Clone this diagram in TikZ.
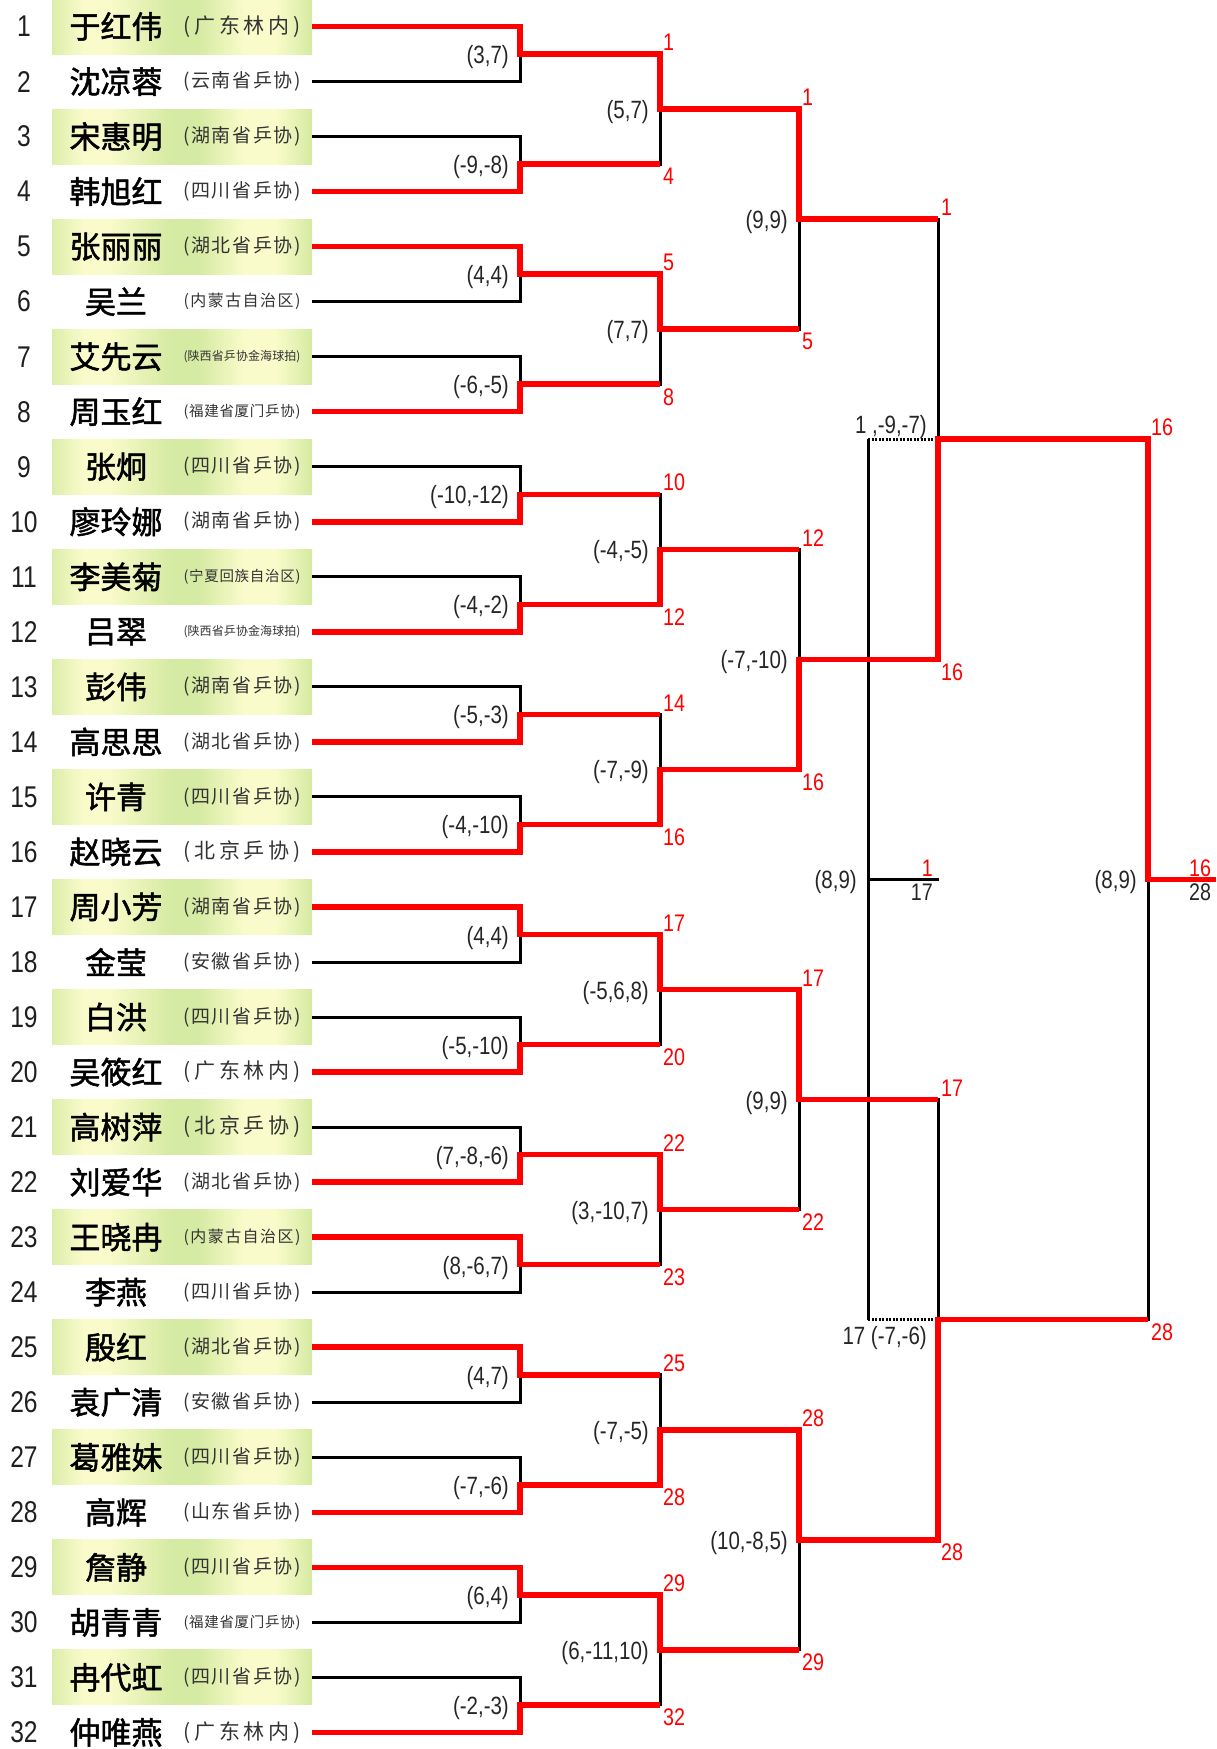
\documentclass[tikz,border=0pt]{standalone}
\usepackage{fontspec}
\setmainfont{Liberation Sans}[FakeStretch=0.82]
\newfontfamily\cjk{Noto Sans CJK SC}
\newfontfamily\cjkname{Noto Sans CJK SC}[FakeBold=1.6]
\usetikzlibrary{calc}
\definecolor{gr}{HTML}{D5EAA2}
\definecolor{ye}{HTML}{F9FBCA}
\definecolor{rd}{HTML}{FF0000}
\definecolor{afc}{HTML}{333333}
\pgfdeclarehorizontalshading{boxshade}{100bp}{color(0bp)=(gr); color(25bp)=(gr!80!ye); color(31bp)=(ye); color(36bp)=(ye); color(48bp)=(gr); color(53bp)=(gr); color(62bp)=(ye); color(68bp)=(ye); color(75bp)=(gr); color(100bp)=(gr)}
\def\spreadit#1{\ifx\relax#1\else#1\hfil\expandafter\spreadit\fi}
\newcommand\aff[2]{\makebox[117pt][s]{\fontsize{#1}{#1}\selectfont\cjk(\hfil\expandafter\spreadit#2\relax)}}
\begin{document}
\begin{tikzpicture}[x=1pt,y=-1pt,
  declare function={rowy(\k)=26.5+55.03*(\k-1);},
  namebox/.style={minimum width=260pt,minimum height=55.03pt,inner sep=0,outer sep=0,draw=none},
  oddbox/.style={namebox,shading=boxshade},
  blk/.style={line width=3pt,black},
  rl/.style={line width=5.5pt,rd,line join=miter},
  dotl/.style={line width=2.7pt,black,dash pattern=on 2pt off 1.5pt},
  numlab/.style={font=\fontsize{30}{30}\selectfont,text=black!88,inner sep=0},
  namelab/.style={font={\fontsize{31}{31}\selectfont\cjkname},inner sep=0},
  afflab/.style={text=afc,inner sep=0},
  sc/.style={font=\fontsize{25}{25}\selectfont,text=black!85,inner sep=0,anchor=base east},
  wl/.style={font=\fontsize{24}{24}\selectfont,text=rd,inner sep=0}]
\useasboundingbox (0,0) rectangle (1216,1749);
% ---- players ----
\foreach \i/\nm/\fs/\af in {
1/于红伟/21/广东林内, 2/沈凉蓉/19/云南省乒协, 3/宋惠明/19/湖南省乒协, 4/韩旭红/19/四川省乒协,
5/张丽丽/19/湖北省乒协, 6/吴兰/16/内蒙古自治区, 7/艾先云/12/陕西省乒协金海球拍, 8/周玉红/14.5/福建省厦门乒协,
9/张炯/19/四川省乒协, 10/廖玲娜/19/湖南省乒协, 11/李美菊/14.5/宁夏回族自治区, 12/吕翠/12/陕西省乒协金海球拍,
13/彭伟/19/湖南省乒协, 14/高思思/19/湖北省乒协, 15/许青/19/四川省乒协, 16/赵晓云/21/北京乒协,
17/周小芳/19/湖南省乒协, 18/金莹/19/安徽省乒协, 19/白洪/19/四川省乒协, 20/吴筱红/21/广东林内,
21/高树萍/21/北京乒协, 22/刘爱华/19/湖北省乒协, 23/王晓冉/16/内蒙古自治区, 24/李燕/19/四川省乒协,
25/殷红/19/湖北省乒协, 26/袁广清/19/安徽省乒协, 27/葛雅妹/19/四川省乒协, 28/高辉/19/山东省乒协,
29/詹静/19/四川省乒协, 30/胡青青/14.5/福建省厦门乒协, 31/冉代虹/19/四川省乒协, 32/仲唯燕/21/广东林内}{
  \ifodd\i
    \node[oddbox] (b-\i) at (182,{rowy(\i)}) {};
  \else
    \node[namebox] (b-\i) at (182,{rowy(\i)}) {};
  \fi
  \node[numlab] (n-\i) at (24,{rowy(\i)}) {\i};
  \node[namelab] (nm-\i) at (116,{rowy(\i)}) {\nm};
  \node[afflab] (af-\i) at (242,{rowy(\i)}) {\aff{\fs}{\af}};
}
% ---- junction coordinates ----
\foreach \k in {1,...,16} \coordinate (r1-\k) at (520,{rowy(2*\k-0.5)});
\foreach \k in {1,...,8} \coordinate (r2-\k) at (660,{rowy(4*\k-1.5)});
\foreach \k in {1,...,4} \coordinate (r3-\k) at (799,{rowy(8*\k-3.5)});
\foreach \k in {1,2} \coordinate (r4-\k) at (938,{rowy(16*\k-7.5)});
\coordinate (r5) at (1148,{rowy(16.5)});
\coordinate (fend) at (1216,{rowy(16.5)});
\coordinate (t1) at (868,{rowy(8.5)});
\coordinate (t2) at (868,{rowy(24.5)});
\coordinate (t) at (868,{rowy(16.5)});
\coordinate (tend) at (939,{rowy(16.5)});
% ---- black bracket ----
\foreach \k in {1,...,16}{\pgfmathtruncatemacro\a{2*\k-1}\pgfmathtruncatemacro\b{2*\k}
  \draw[blk] (b-\a.east) -| (r1-\k); \draw[blk] (b-\b.east) -| (r1-\k);}
\foreach \k in {1,...,8}{\pgfmathtruncatemacro\a{2*\k-1}\pgfmathtruncatemacro\b{2*\k}
  \draw[blk] (r1-\a) -| (r2-\k); \draw[blk] (r1-\b) -| (r2-\k);}
\foreach \k in {1,...,4}{\pgfmathtruncatemacro\a{2*\k-1}\pgfmathtruncatemacro\b{2*\k}
  \draw[blk] (r2-\a) -| (r3-\k); \draw[blk] (r2-\b) -| (r3-\k);}
\foreach \k in {1,2}{\pgfmathtruncatemacro\a{2*\k-1}\pgfmathtruncatemacro\b{2*\k}
  \draw[blk] (r3-\a) -| (r4-\k); \draw[blk] (r3-\b) -| (r4-\k);}
\draw[blk] (r4-1) -| (r5); \draw[blk] (r4-2) -| (r5);
% third place
\draw[blk] (t1) -- (t2);
\draw[blk] (t) -- (tend);
\draw[dotl] (t1) -- (r4-1);
\draw[dotl] (t2) -- (r4-2);
% ---- red winner paths ----
\draw[rl] (b-4.east) -| (r1-2) -- (r1-2 -| r2-1);
\draw[rl] (b-8.east) -| (r1-4) -- (r1-4 -| r2-2);
\draw[rl] (b-10.east) -| (r1-5) -- (r1-5 -| r2-3);
\draw[rl] (b-14.east) -| (r1-7) -- (r1-7 -| r2-4);
\draw[rl] (b-20.east) -| (r1-10) -- (r1-10 -| r2-5);
\draw[rl] (b-23.east) -| (r1-12) -- (r1-12 -| r2-6);
\draw[rl] (b-25.east) -| (r1-13) -- (r1-13 -| r2-7);
\draw[rl] (b-32.east) -| (r1-16) -- (r1-16 -| r2-8);
\draw[rl] (b-5.east) -| (r1-3) -| (r2-2) -- (r2-2 -| r3-1);
\draw[rl] (b-12.east) -| (r1-6) -| (r2-3) -- (r2-3 -| r3-2);
\draw[rl] (b-22.east) -| (r1-11) -| (r2-6) -- (r2-6 -| r3-3);
\draw[rl] (b-29.east) -| (r1-15) -| (r2-8) -- (r2-8 -| r3-4);
\draw[rl] (b-1.east) -| (r1-1) -| (r2-1) -| (r3-1) -- (r3-1 -| r4-1);
\draw[rl] (b-17.east) -| (r1-9) -| (r2-5) -| (r3-3) -- (r3-3 -| r4-2);
\draw[rl] (b-28.east) -| (r1-14) -| (r2-7) -| (r3-4) -| (r4-2) -- (r4-2 -| r5);
\draw[rl] (b-16.east) -| (r1-8) -| (r2-4) -| (r3-2) -| (r4-1) -| (r5) -- (fend);
% ---- scores ----
\foreach \k/\s in {1/{(3,7)},2/{(-9,-8)},3/{(4,4)},4/{(-6,-5)},5/{(-10,-12)},6/{(-4,-2)},7/{(-5,-3)},8/{(-4,-10)},
  9/{(4,4)},10/{(-5,-10)},11/{(7,-8,-6)},12/{(8,-6,7)},13/{(4,7)},14/{(-7,-6)},15/{(6,4)},16/{(-2,-3)}}
  \node[sc] (s1-\k) at ($(r1-\k)+(-11,9.5)$) {\s};
\foreach \k/\s in {1/{(5,7)},2/{(7,7)},3/{(-4,-5)},4/{(-7,-9)},5/{(-5,6,8)},6/{(3,-10,7)},7/{(-7,-5)},8/{(6,-11,10)}}
  \node[sc] (s2-\k) at ($(r2-\k)+(-11,9.5)$) {\s};
\foreach \k/\s in {1/{(9,9)},2/{(-7,-10)},3/{(9,9)},4/{(10,-8,5)}}
  \node[sc] (s3-\k) at ($(r3-\k)+(-11,9.5)$) {\s};
\node[sc] (s4-1) at ($(r4-1)+(-11,-6)$) {1 ,-9,-7)};
\node[sc] (s4-2) at ($(r4-2)+(-11,25)$) {17 (-7,-6)};
\node[sc] (s5) at ($(r5)+(-11,9.5)$) {(8,9)};
\node[sc] (st) at ($(t)+(-11,9.5)$) {(8,9)};
% ---- advancing player labels ----
\foreach \k/\u/\v in {1/1/4,2/5/8,3/10/12,4/14/16,5/17/20,6/22/23,7/25/28,8/29/32}{
  \pgfmathtruncatemacro\a{2*\k-1}\pgfmathtruncatemacro\b{2*\k}
  \node[wl,anchor=south west] at ($(r1-\a -| r2-\k)+(3,-3)$) {\u};
  \node[wl,anchor=north west] at ($(r1-\b -| r2-\k)+(3,4)$) {\v};}
\foreach \k/\u/\v in {1/1/5,2/12/16,3/17/22,4/28/29}{
  \pgfmathtruncatemacro\a{2*\k-1}\pgfmathtruncatemacro\b{2*\k}
  \node[wl,anchor=south west] at ($(r2-\a -| r3-\k)+(3,-3)$) {\u};
  \node[wl,anchor=north west] at ($(r2-\b -| r3-\k)+(3,4)$) {\v};}
\foreach \k/\u/\v in {1/1/16,2/17/28}{
  \pgfmathtruncatemacro\a{2*\k-1}\pgfmathtruncatemacro\b{2*\k}
  \node[wl,anchor=south west] at ($(r3-\a -| r4-\k)+(3,-3)$) {\u};
  \node[wl,anchor=north west] at ($(r3-\b -| r4-\k)+(3,4)$) {\v};}
\node[wl,anchor=south west] at ($(r4-1 -| r5)+(3,-3)$) {16};
\node[wl,anchor=north west] at ($(r4-2 -| r5)+(3,4)$) {28};
% third place result
\node[wl,anchor=south east] (tw) at ($(tend)+(-6,-3)$) {1};
\node[wl,text=black!85,anchor=north east] (tl) at ($(tend)+(-6,4)$) {17};
% final result
\node[wl,anchor=south west] (fw) at ($(r5)+(41,-3)$) {16};
\node[wl,text=black!85,anchor=north west] (fl) at ($(r5)+(41,4)$) {28};
\end{tikzpicture}
\end{document}
